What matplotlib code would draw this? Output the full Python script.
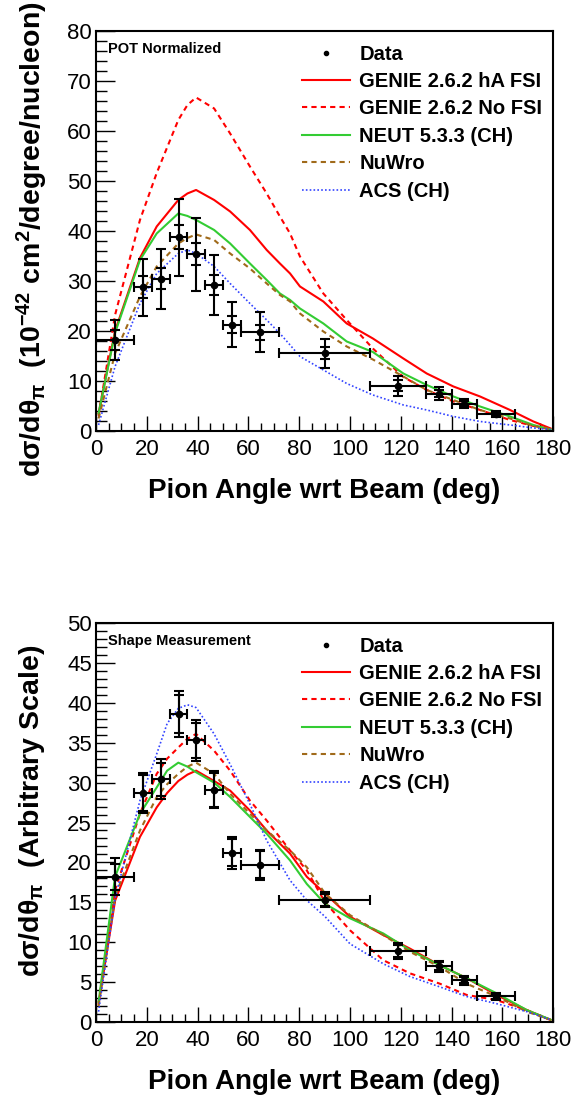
import matplotlib
matplotlib.use('Agg')
import matplotlib.pyplot as plt
from matplotlib.lines import Line2D
from matplotlib.ticker import MultipleLocator

plt.rcParams['font.family'] = ['Liberation Sans', 'DejaVu Sans']
plt.rcParams['mathtext.fontset'] = 'custom'
plt.rcParams['mathtext.rm'] = 'Liberation Sans:bold'
plt.rcParams['mathtext.it'] = 'Liberation Sans:bold'
plt.rcParams['mathtext.default'] = 'regular'

# data points (pion angle bins)
bin_lo = [0, 15, 22, 29, 36, 43, 50, 57, 72, 108, 130, 140, 150]
bin_hi = [15, 22, 29, 36, 43, 50, 57, 72, 108, 130, 140, 150, 165]

xsec_pot = [18.2, 28.7, 30.4, 38.7, 35.3, 29.1, 21.2, 19.7, 15.5, 9.0, 7.4, 5.4, 3.4]
stat_pot = [2.0, 2.2, 2.1, 2.4, 2.2, 2.0, 1.7, 1.5, 1.2, 1.1, 0.7, 0.5, 0.35]
tot_pot = [4.0, 5.7, 6.0, 7.7, 7.3, 6.0, 4.5, 4.0, 2.9, 2.0, 1.3, 0.9, 0.57]

xsec_shape = [18.2, 28.7, 30.4, 38.6, 35.3, 29.1, 21.2, 19.7, 15.3, 8.9, 7.0, 5.25, 3.2]
stat_shape = [1.6, 2.2, 2.1, 2.4, 2.2, 2.1, 1.7, 1.7, 0.7, 0.8, 0.5, 0.4, 0.35]
tot_shape = [2.3, 2.5, 2.5, 2.9, 2.6, 2.3, 2.0, 1.9, 0.94, 1.0, 0.7, 0.55, 0.45]

# generator predictions, POT normalized
ang_pot = [1, 7.5, 17.3, 23.9, 32.4, 36, 39.4, 46.5, 52.8, 60.6, 67.2, 72.4, 76.4, 80.3,
           89.5, 98.7, 109, 121, 130.2, 140.7, 151.2, 163, 172.2, 179]
genie_ha_pot = [3.5, 20, 34.6, 40.9, 46.2, 47.5, 48.2, 46.2, 43.9, 40.2, 36.2, 33.5, 31.5, 28.9,
                25.9, 21.5, 18.5, 14.5, 11.5, 8.9, 6.9, 4.2, 1.9, 0.5]
genie_nofsi_pot = [3, 23.2, 42.2, 51.6, 62.2, 65.2, 66.7, 64.5, 59.5, 52.9, 47.5, 42.9, 39.5, 34.9,
                   27.5, 22.2, 16.5, 10.8, 8.2, 5.9, 4.2, 2.2, 1.0, 0.4]
neut_pot = [3.5, 19.6, 34.2, 39.5, 43.5, 43.0, 42.2, 40.2, 37.5, 33.5, 30.2, 27.5, 26.2, 24.5,
            21.5, 17.9, 15.8, 11.5, 9.2, 6.9, 4.9, 2.9, 1.2, 0.3]
nuwro_pot = [2.5, 15.5, 26.9, 32.9, 37.5, 38.6, 39.3, 38.2, 35.5, 32.5, 29.5, 27.2, 25.9, 23.5,
             19.9, 16.9, 14.3, 10.9, 8.2, 6.2, 4.2, 2.5, 1.0, 0.3]
acs_pot = [1.2, 12.9, 25.5, 31.5, 35.5, 36.2, 35.5, 32.9, 29.5, 25.5, 22.2, 19.5, 17.2, 14.9,
           12.2, 9.5, 7.2, 5.2, 4.2, 2.9, 1.9, 1.2, 0.6, 0.3]

# generator predictions, shape only
ang_shape = [1, 7.5, 17.3, 23.9, 28, 32.4, 36, 39.4, 46.5, 52.8, 60.6, 67.2, 76.4, 83,
             90.2, 100, 113.1, 123.6, 135.4, 145.9, 157.7, 169.6, 179]
genie_ha_shape = [2.3, 15.2, 23.2, 26.9, 28.7, 30.2, 31.0, 31.5, 30.2, 29.0, 26.5, 24.0, 21.1, 18.2,
                  16.1, 13.2, 10.9, 9.2, 7.1, 5.5, 3.4, 1.5, 0.25]
genie_nofsi_shape = [2.5, 16.5, 26.1, 31.1, 33.0, 34.4, 35.5, 36.1, 34.0, 31.5, 27.75, 25.25, 21.5, 19.0,
                     15.0, 11.5, 7.75, 6.1, 4.8, 3.4, 2.75, 1.5, 0.25]
neut_shape = [2.5, 18.2, 26.1, 29.4, 31.5, 32.5, 32.0, 31.3, 30.0, 28.2, 25.7, 23.6, 20.25, 17.3,
              14.8, 13.0, 11.1, 9.0, 7.1, 5.5, 3.6, 1.5, 0.3]
nuwro_shape = [2.0, 15.7, 24.0, 28.2, 29.8, 31.1, 32.0, 32.5, 31.1, 28.6, 26.1, 24.0, 21.5, 19.4,
               16.1, 13.4, 10.9, 8.8, 6.9, 4.8, 3.2, 1.3, 0.3]
acs_shape = [1.3, 15.5, 27.75, 33.6, 37.4, 39.3, 39.75, 39.4, 36.1, 32.3, 27.3, 22.75, 17.75, 15.25,
             13.2, 9.8, 7.3, 5.7, 4.4, 3.2, 2.3, 1.3, 0.3]

labels = ['Data', 'GENIE 2.6.2 hA FSI', 'GENIE 2.6.2 No FSI', 'NEUT 5.3.3 (CH)', 'NuWro', 'ACS (CH)']

bin_c = [(a + b) / 2 for a, b in zip(bin_lo, bin_hi)]
bin_w = [(b - a) / 2 for a, b in zip(bin_lo, bin_hi)]


def draw_panel(ax, ang, ha, nofsi, neut, nuwro, acs, y, stat, tot, ymax, ymaj, ymin, tag):
    l1, = ax.plot(ang, ha, c='#ff0000', lw=1.5)
    l2, = ax.plot(ang, nofsi, c='#ff0000', lw=1.5, dashes=(2.5, 2))
    l3, = ax.plot(ang, neut, c='#33cc33', lw=1.5)
    l4, = ax.plot(ang, nuwro, c='#a06a1a', lw=1.5, dashes=(2.5, 2))
    l5, = ax.plot(ang, acs, c='#3344ff', lw=1.2, dashes=(1, 1.3))
    ax.errorbar(bin_c, y, xerr=bin_w, yerr=tot, fmt='o', color='k', ms=4.5,
                elinewidth=1.5, capsize=3.5, capthick=1.5, zorder=5)
    ax.errorbar(bin_c, y, yerr=stat, fmt='none', ecolor='k',
                elinewidth=1.5, capsize=3.5, capthick=1.5, zorder=5)
    dot = Line2D([], [], ls='none', marker='o', color='k', ms=3)
    ax.legend([dot, l1, l2, l3, l4, l5], labels, loc='upper left', bbox_to_anchor=(0.45, 0.966),
              frameon=False, borderpad=0, borderaxespad=0, handlelength=2.4, handletextpad=0.45,
              labelspacing=0.42, prop={'weight': 'bold', 'size': 14.5})
    ax.text(0.027, 0.946, tag, transform=ax.transAxes, fontsize=10.5, fontweight='bold')
    ax.set_xlim(0, 180)
    ax.set_ylim(0, ymax)
    ax.xaxis.set_major_locator(MultipleLocator(20))
    ax.xaxis.set_minor_locator(MultipleLocator(5))
    ax.yaxis.set_major_locator(MultipleLocator(ymaj))
    ax.yaxis.set_minor_locator(MultipleLocator(ymin))
    ax.tick_params(which='both', direction='in', top=False, right=False, labelsize=16, width=1)
    ax.tick_params(axis='x', which='major', length=11, pad=6)
    ax.tick_params(axis='x', which='minor', length=5.5)
    ax.tick_params(axis='y', which='major', length=14, pad=3)
    ax.tick_params(axis='y', which='minor', length=8)
    for s in ax.spines.values():
        s.set_linewidth(1.5)
    ax.set_xlabel('Pion Angle wrt Beam (deg)', fontsize=20, fontweight='bold', labelpad=13)


fig = plt.figure(figsize=(5.75, 10.98), dpi=100)

ax1 = fig.add_axes([0.167, 0.6075, 0.795, 0.3643])
draw_panel(ax1, ang_pot, genie_ha_pot, genie_nofsi_pot, neut_pot, nuwro_pot, acs_pot,
           xsec_pot, stat_pot, tot_pot, 80, 10, 2, 'POT Normalized')
fig.text(0.056, 0.782, r'd$\sigma$/d$\theta_{\pi}$  (10$^{-42}$ cm$^{2}$/degree/nucleon)',
         rotation=90, ha='center', va='center', fontsize=20.5, fontweight='bold')

ax2 = fig.add_axes([0.167, 0.0692, 0.795, 0.3634])
draw_panel(ax2, ang_shape, genie_ha_shape, genie_nofsi_shape, neut_shape, nuwro_shape, acs_shape,
           xsec_shape, stat_shape, tot_shape, 50, 5, 1, 'Shape Measurement')
fig.text(0.056, 0.2614, r'd$\sigma$/d$\theta_{\pi}$  (Arbitrary Scale)',
         rotation=90, ha='center', va='center', fontsize=20.5, fontweight='bold')

fig.savefig('out.png', dpi=100)
